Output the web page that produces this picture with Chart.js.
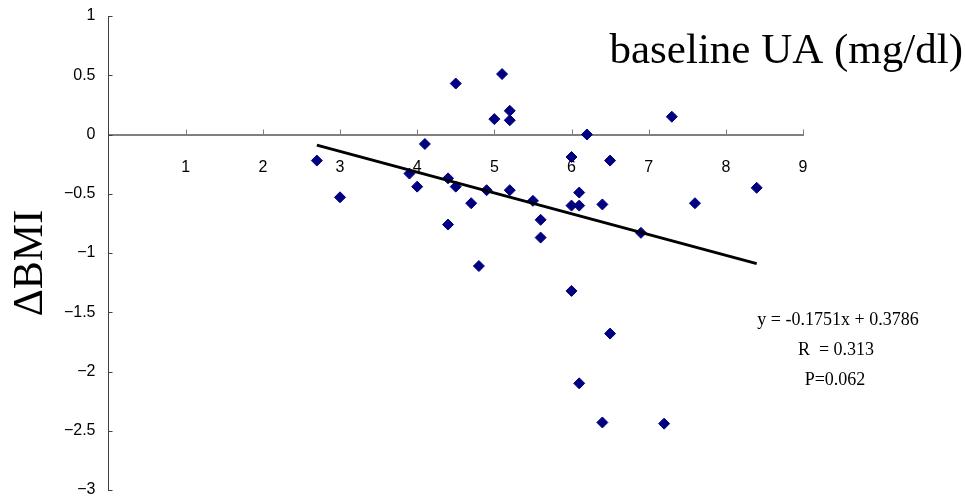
<!DOCTYPE html>
<html>
<head>
<meta charset="utf-8">
<script src="https://cdn.jsdelivr.net/npm/chart.js@4/dist/chart.umd.min.js"></script>
<style>
  html, body { margin: 0; padding: 0; background: #fff; }
  #wrap { width: 966px; height: 499px; }
</style>
</head>
<body>
<div id="wrap"><canvas id="chart" width="966" height="499"></canvas></div>
<script>
/* baseline UA vs change in BMI, with linear trend */

var uaValues = [2.7, 3.0, 3.9, 4.0, 4.1, 4.4, 4.4, 4.5, 4.5, 4.7, 4.8, 4.9,
  5.0, 5.1, 5.2, 5.2, 5.2, 5.5, 5.6, 5.6, 6.0, 6.0, 6.0, 6.1,
  6.1, 6.1, 6.2, 6.4, 6.4, 6.5, 6.5, 6.9, 7.2, 7.3, 7.6, 8.4];
var bmiChange = [-0.22, -0.53, -0.33, -0.44, -0.08, -0.37, -0.76, 0.43, -0.44, -0.58, -1.11, -0.47,
  0.13, 0.51, 0.20, 0.12, -0.47, -0.56, -0.72, -0.87, -0.19, -0.60, -1.32, -0.49,
  -0.60, -2.10, 0.00, -0.59, -2.43, -0.22, -1.68, -0.83, -2.44, 0.15, -0.58, -0.45];

var trendX = [2.7, 8.4];
var trendY = [-0.09, -1.09];

var xTicks = [0, 1, 2, 3, 4, 5, 6, 7, 8, 9];
var yTicks = [1, 0.5, 0, -0.5, -1, -1.5, -2, -2.5, -3];

var titleText = 'baseline UA (mg/dl)';
var yLabelText = '\u0394BMI';
var statLines = ['y = -0.1751x + 0.3786', 'R  = 0.313', 'P=0.062'];

function toPoints(xs, ys) {
  var out = [];
  for (var i = 0; i < xs.length; i++) out.push({ x: xs[i], y: ys[i] });
  return out;
}

function fmtMinus(v) {
  return v < 0 ? '\u2212' + Math.abs(v) : String(v);
}

function noScalePadding(scale) {
  scale.paddingTop = 0;
  scale.paddingBottom = 0;
  scale.paddingLeft = 0;
  scale.paddingRight = 0;
}

var decorPlugin = {
  id: 'decor',
  beforeDatasetsDraw: function(chart) {
    var ctx = chart.ctx;
    var xs = chart.scales.x, ys = chart.scales.y;
    var y0 = ys.getPixelForValue(0);
    var x0 = xs.getPixelForValue(0);
    ctx.save();
    // inward tick marks
    ctx.strokeStyle = '#808080';
    ctx.lineWidth = 1;
    xTicks.forEach(function(v) {
      if (v === 0) return;
      var px = Math.round(xs.getPixelForValue(v)) + 0.5;
      ctx.beginPath(); ctx.moveTo(px, y0); ctx.lineTo(px, y0 - 5); ctx.stroke();
    });
    ctx.strokeStyle = '#404040';
    yTicks.forEach(function(v) {
      var py = Math.round(ys.getPixelForValue(v)) + 0.5;
      ctx.beginPath(); ctx.moveTo(x0, py); ctx.lineTo(x0 + 4, py); ctx.stroke();
    });
    ctx.restore();
  },
  afterDraw: function(chart) {
    var ctx = chart.ctx;
    ctx.save();
    ctx.fillStyle = '#000';
    ctx.font = '43px "Liberation Serif", "Times New Roman", serif';
    ctx.textAlign = 'right';
    ctx.textBaseline = 'alphabetic';
    ctx.fillText(titleText, 963, 63);

    ctx.save();
    ctx.translate(42, 263);
    ctx.rotate(-Math.PI / 2);
    ctx.font = '42px "Liberation Serif", "Times New Roman", serif';
    ctx.textAlign = 'center';
    ctx.fillText(yLabelText, 0, 0);
    ctx.restore();

    ctx.font = '18px "Liberation Serif", "Times New Roman", serif';
    ctx.textAlign = 'center';
    ctx.fillText(statLines[0], 838, 325);
    ctx.fillText(statLines[1], 836, 355);
    ctx.fillText(statLines[2], 835, 385);
    ctx.restore();
  }
};

new Chart(document.getElementById('chart').getContext('2d'), {
  type: 'scatter',
  data: {
    datasets: [
      {
        label: 'trend',
        type: 'line',
        data: toPoints(trendX, trendY),
        borderColor: '#000',
        borderWidth: 3,
        pointRadius: 0,
        fill: false,
        order: 0
      },
      {
        label: 'subjects',
        data: toPoints(uaValues, bmiChange),
        pointStyle: 'rectRot',
        pointRadius: 5.5,
        pointBackgroundColor: '#000080',
        pointBorderColor: '#000080',
        pointBorderWidth: 1,
        order: 1
      }
    ]
  },
  options: {
    responsive: false,
    animation: false,
    layout: { padding: { top: 16, right: 163, bottom: 9, left: 0 } },
    plugins: { legend: { display: false }, tooltip: { enabled: false } },
    scales: {
      x: {
        type: 'linear',
        min: 0,
        max: 9,
        position: { y: 0 },
        afterFit: function(scale) { scale.height = 0; noScalePadding(scale); },
        afterBuildTicks: function(scale) {
          scale.ticks = xTicks.map(function(v) { return { value: v }; });
        },
        ticks: {
          color: '#000',
          font: { family: '"Liberation Sans", Arial, sans-serif', size: 16 },
          padding: 23,
          maxRotation: 0,
          autoSkip: false,
          callback: function(v) { return v === 0 ? '' : String(v); }
        },
        grid: { drawOnChartArea: false, drawTicks: false },
        border: { color: '#808080', width: 2 }
      },
      y: {
        type: 'linear',
        min: -3,
        max: 1,
        afterFit: function(scale) { scale.width = 108.5; noScalePadding(scale); },
        afterBuildTicks: function(scale) {
          scale.ticks = yTicks.map(function(v) { return { value: v }; });
        },
        ticks: {
          color: '#000',
          font: { family: '"Liberation Sans", Arial, sans-serif', size: 16 },
          padding: 13,
          autoSkip: false,
          callback: function(v) { return fmtMinus(v); }
        },
        grid: { drawOnChartArea: false, drawTicks: false },
        border: { color: '#404040', width: 1 }
      }
    }
  },
  plugins: [decorPlugin]
});
</script>
</body>
</html>
